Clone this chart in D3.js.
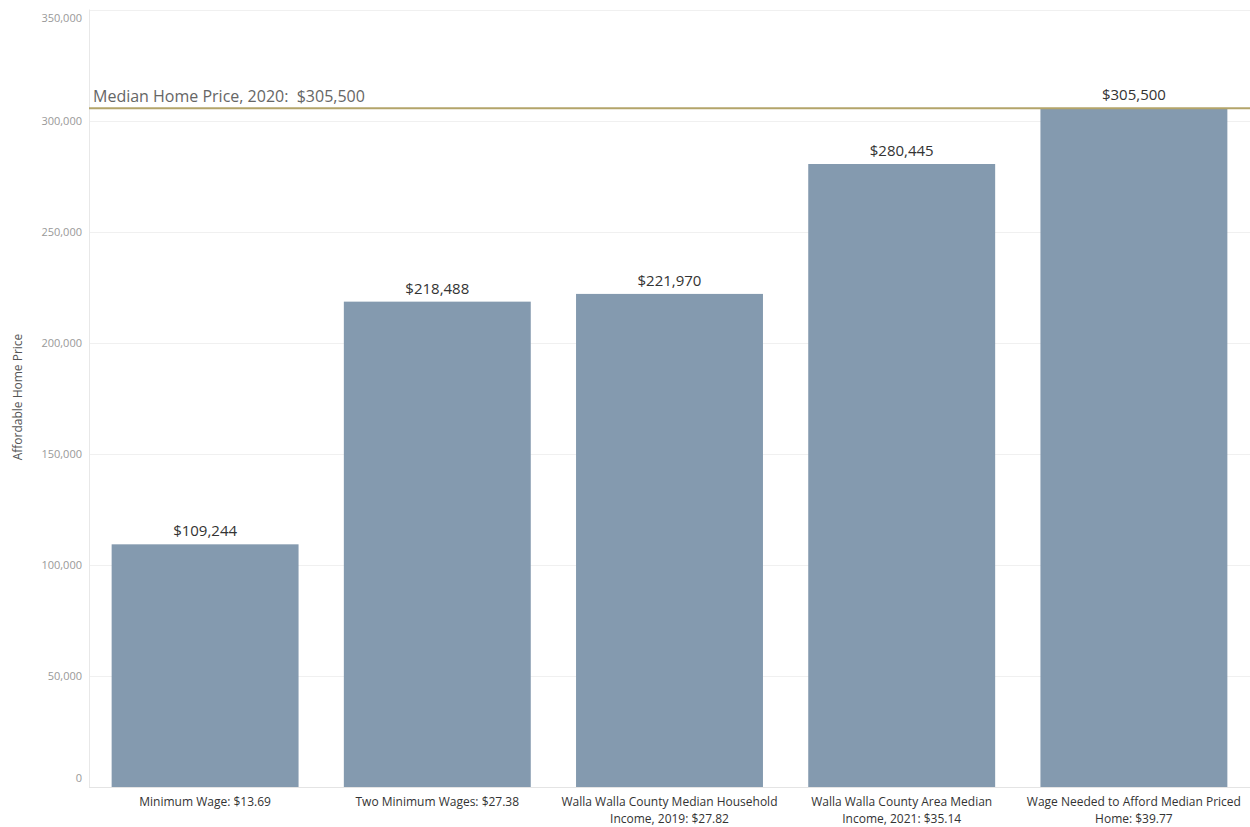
<!DOCTYPE html>
<html>
<head>
<meta charset="utf-8">
<script src="https://cdn.jsdelivr.net/npm/d3@7"></script>
<style>
  html, body { margin: 0; padding: 0; background: #fff; }
  svg { display: block; font-family: "Open Sans", "Noto Sans", sans-serif; }
</style>
</head>
<body>
<svg id="chart" width="1250" height="827"></svg>
<script>
// Affordable home price by wage scenario, Walla Walla County
const categories = [
  ["Minimum Wage: $13.69"],
  ["Two Minimum Wages: $27.38"],
  ["Walla Walla County Median Household", "Income, 2019: $27.82"],
  ["Walla Walla County Area Median", "Income, 2021: $35.14"],
  ["Wage Needed to Afford Median Priced", "Home: $39.77"]
];
const values = [109244, 218488, 221970, 280445, 305500];
const yTicks = [0, 50000, 100000, 150000, 200000, 250000, 300000, 350000];
const medianPrice = 305500;
const medianLabel = "Median Home Price, 2020:  $305,500";
const yTitle = "Affordable Home Price";

const svg = d3.select("#chart");
const plotLeft = 89, plotRight = 1250, plotTop = 9.5, plotBottom = 787;

const x = d3.scaleBand()
  .domain(d3.range(values.length))
  .range([plotLeft, plotRight])
  .paddingInner(0.195)
  .paddingOuter(0.0975);

const y = d3.scaleLinear().domain([0, 350000]).range([plotBottom, plotTop]);

// Horizontal gridlines
svg.append("g")
  .selectAll("line")
  .data(yTicks)
  .join("line")
  .attr("x1", plotLeft).attr("x2", plotRight)
  .attr("y1", d => Math.round(y(d)) + 0.5).attr("y2", d => Math.round(y(d)) + 0.5)
  .attr("stroke", "#f0f0f0").attr("stroke-width", 1);

// Left axis border
svg.append("line")
  .attr("x1", plotLeft + 0.5).attr("x2", plotLeft + 0.5)
  .attr("y1", plotTop).attr("y2", plotBottom)
  .attr("stroke", "#e8e8e8");

// Y axis; the end labels are nudged inside the plot area
const yAxis = d3.axisLeft(y)
  .tickValues(yTicks)
  .tickFormat(d3.format(","))
  .tickSize(0)
  .tickPadding(7);
const gy = svg.append("g").attr("transform", `translate(${plotLeft},0)`).call(yAxis);
gy.select(".domain").remove();
gy.selectAll("text")
  .attr("fill", "#999")
  .attr("dy", d => d === 350000 ? "1.05em" : d === 0 ? "-0.5em" : "0.32em")
  .style("font-size", "11px")
  .style("font-family", "'Open Sans', sans-serif");

// Y axis title
svg.append("text")
  .attr("transform", `translate(22,397) rotate(-90)`)
  .attr("text-anchor", "middle")
  .attr("fill", "#555")
  .style("font-size", "12px")
  .text(yTitle);

// Bars
svg.append("g")
  .selectAll("rect")
  .data(values)
  .join("rect")
  .attr("x", (d, i) => x(i))
  .attr("width", x.bandwidth())
  .attr("y", d => y(d))
  .attr("height", d => y(0) - y(d))
  .attr("fill", "#849aaf");

// Bottom axis line
svg.append("line")
  .attr("x1", plotLeft).attr("x2", plotRight)
  .attr("y1", plotBottom + 0.5).attr("y2", plotBottom + 0.5)
  .attr("stroke", "#e4e4e4");

// Median home price reference line
svg.append("line")
  .attr("x1", plotLeft).attr("x2", plotRight)
  .attr("y1", y(medianPrice)).attr("y2", y(medianPrice))
  .attr("stroke", "#b3a46a").attr("stroke-width", 2);

svg.append("text")
  .attr("x", 93)
  .attr("y", y(medianPrice) - 6)
  .attr("fill", "#666")
  .attr("xml:space", "preserve")
  .style("white-space", "pre")
  .style("font-size", "16px")
  .text(medianLabel);

// Value labels
svg.append("g")
  .selectAll("text")
  .data(values)
  .join("text")
  .attr("x", (d, i) => x(i) + x.bandwidth() / 2)
  .attr("y", d => y(d) - 8)
  .attr("text-anchor", "middle")
  .attr("fill", "#333")
  .style("font-size", "15px")
  .text(d => "$" + d3.format(",")(d));

// Category labels
const xl = svg.append("g")
  .selectAll("text")
  .data(categories)
  .join("text")
  .attr("text-anchor", "middle")
  .attr("fill", "#333")
  .style("font-size", "12px");
xl.each(function(lines, i) {
  const t = d3.select(this);
  lines.forEach((ln, j) => {
    t.append("tspan")
      .attr("x", x(i) + x.bandwidth() / 2)
      .attr("y", 806 + j * 16.5)
      .text(ln);
  });
});
</script>
</body>
</html>
